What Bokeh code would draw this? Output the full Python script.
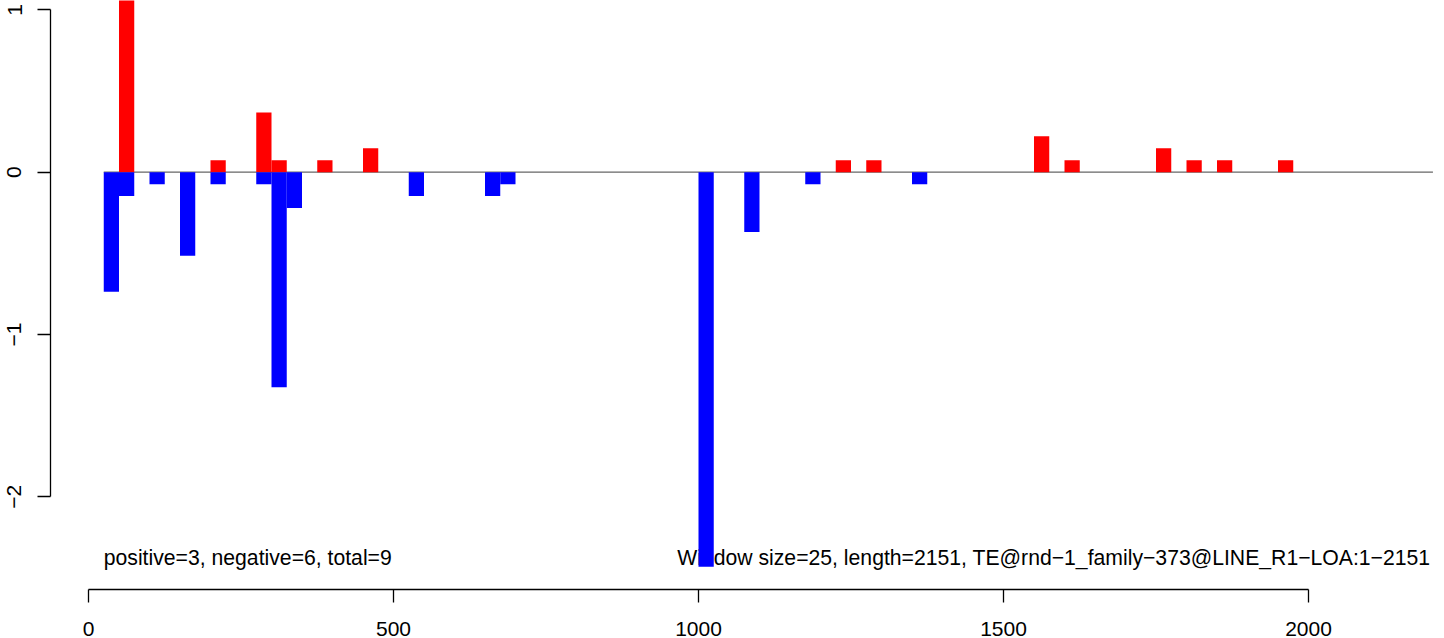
from bokeh.plotting import figure
from bokeh.models import Range1d, FixedTicker
from bokeh.core.properties import value
from bokeh.embed import file_html
from bokeh.resources import INLINE

# ---- data ----
window_size = 25
seq_length = 2151
pos_starts = [50, 200, 275, 300, 375, 450, 1225, 1275, 1550, 1600, 1750, 1800, 1850, 1950]
pos_values = [1.47, 0.074, 0.368, 0.074, 0.074, 0.147, 0.074, 0.074, 0.221, 0.074, 0.147, 0.074, 0.074, 0.074]
neg_starts = [25, 50, 100, 150, 200, 275, 300, 325, 525, 650, 675, 1000, 1075, 1175, 1350]
neg_values = [-0.736, -0.147, -0.074, -0.515, -0.074, -0.074, -1.325, -0.221, -0.147, -0.147,
              -0.074, -2.430, -0.368, -0.074, -0.074]
zero_line_x = [25, 2204]
x_ticks = [0, 500, 1000, 1500, 2000]
y_ticks = [-2, -1, 0, 1]
y_tick_labels = {-2: "\u22122", -1: "\u22121", 0: "0", 1: "1"}
left_note = "positive=3, negative=6, total=9"
right_note = "Window size=25, length=2151, TE@rnd\u22121_family\u2212373@LINE_R1\u2212LOA:1\u22122151"

FONT = "Liberation Sans"

p = figure(width=1444, height=638,
           x_range=Range1d(-62.3, 2222.95), y_range=Range1d(-2.5707, 1.0578),
           output_backend="svg", toolbar_location=None,
           min_border_left=50, min_border_right=0, min_border_top=0, min_border_bottom=48)
p.outline_line_color = None
p.xgrid.visible = False
p.ygrid.visible = False
p.background_fill_color = "white"
p.border_fill_color = "white"

for ax in (p.xaxis[0], p.yaxis[0]):
    ax.axis_line_color = "black"
    ax.axis_line_width = 1.3
    ax.major_tick_line_color = "black"
    ax.major_tick_line_width = 1.3
    ax.major_tick_out = 13
    ax.major_tick_in = 0
    ax.minor_tick_out = 0
    ax.minor_tick_in = 0
    ax.major_label_text_font = FONT
    ax.major_label_text_font_size = "21px"
    ax.major_label_text_color = "black"

p.xaxis.ticker = FixedTicker(ticks=x_ticks)
p.xaxis.bounds = (x_ticks[0], x_ticks[-1])
p.xaxis.major_label_standoff = 19

p.yaxis.ticker = FixedTicker(ticks=y_ticks)
p.yaxis.bounds = (y_ticks[0], y_ticks[-1])
p.yaxis.major_label_overrides = y_tick_labels
p.yaxis.major_label_orientation = "vertical"
p.yaxis.major_label_standoff = 16

# zero line
p.segment(x0=[zero_line_x[0]], y0=[0], x1=[zero_line_x[1]], y1=[0],
          line_color="#666666", line_width=1.2)

# notes
p.text(x=[25], y=[-2.374], text=[left_note], text_font=value(FONT), text_font_size="21.2px",
       text_align="left", text_baseline="alphabetic", text_color="black")
p.text(x=[2200], y=[-2.374], text=[right_note], text_font=value(FONT), text_font_size="21.2px",
       text_align="right", text_baseline="alphabetic", text_color="black")

# bars
p.quad(left=pos_starts, right=[s + window_size for s in pos_starts], bottom=0, top=pos_values,
       fill_color="#FF0000", line_color=None)
p.quad(left=neg_starts, right=[s + window_size for s in neg_starts], bottom=neg_values, top=0,
       fill_color="#0000FF", line_color=None)

open("out.html", "w").write(file_html(p, INLINE))
